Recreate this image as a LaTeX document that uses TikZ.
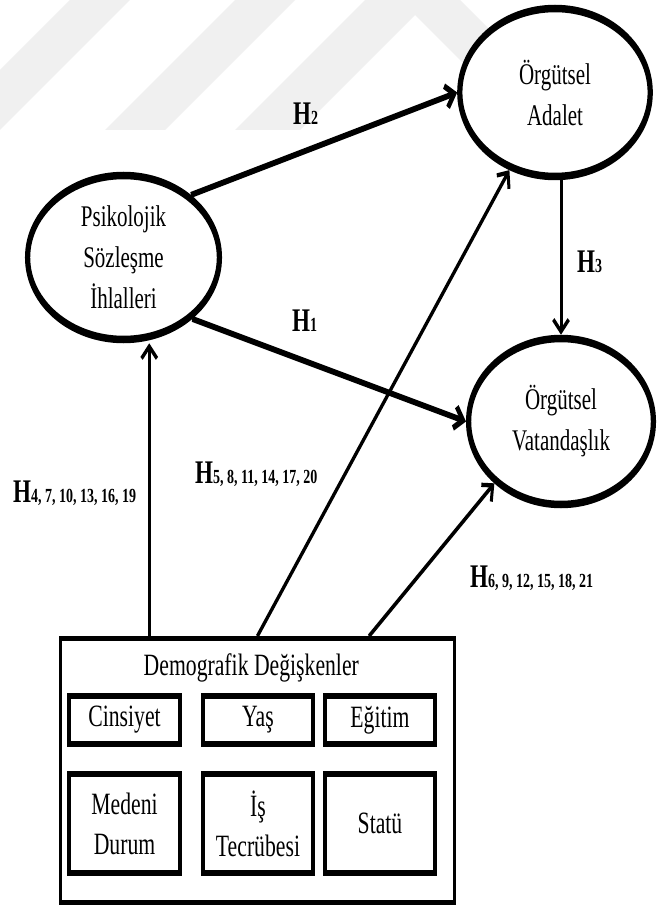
\documentclass[tikz,border=0pt]{standalone}
\usepackage{fontspec}
\setmainfont{Liberation Serif}
\usetikzlibrary{shapes.geometric,arrows.meta,calc}
\definecolor{wmark}{gray}{0.94}
\begin{document}
\begin{tikzpicture}
\path[use as bounding box, fill=white] (0pt,0pt) rectangle (656pt,-909pt);
% faint background emblem bands
\begin{scope}[x=1pt, y=-1pt]
  \fill[wmark] (-60,130) -- (0,130) -- (130,0) -- (70,0) -- cycle;
  \fill[wmark] (105,130) -- (165,130) -- (295,0) -- (235,0) -- cycle;
  \fill[wmark] (235,130) -- (300,130) -- (430,0) -- (365,0) -- cycle;
  \fill[wmark] (400,0) -- (460,0) -- (590,130) -- (530,130) -- cycle;
\end{scope}
% everything is set in a horizontally condensed frame
\begin{scope}[transform canvas={xscale=0.7}, x=1.4285714pt, y=-1pt,
  construct/.style={ellipse, draw, fill=white, line width=7.5pt, inner sep=0pt, align=center,
    font=\fontsize{30}{41}\selectfont},
  groupbox/.style={rectangle, draw, line width=4.5pt, inner sep=0pt,
    minimum width=563pt, minimum height=264pt},
  itembox/.style={rectangle, draw, line width=6pt, inner sep=0pt, align=center,
    minimum width=158pt, font=\fontsize{31}{40}\selectfont},
  shortbox/.style={itembox, minimum height=48pt},
  tallbox/.style={itembox, minimum height=99pt},
  tip/.style={-{Straight Barb[length=12pt,width=22pt]}},
  thick link/.style={tip, line width=6pt},
  thin link/.style={tip, line width=4.3pt},
  hyp/.style={inner sep=0pt, font=\bfseries},
]
% constructs
\node[construct, minimum width=272pt, minimum height=168pt] (adl) at (555,92.5)
  {Örgütsel\\Adalet};
\node[construct, minimum width=274pt, minimum height=164pt] (psk) at (123.5,257.5)
  {Psikolojik\\Sözleşme\\İhlalleri};
\node[construct, minimum width=264pt, minimum height=166pt] (vat) at (561,421.5)
  {Örgütsel\\Vatandaşlık};

% demographic variables
\node[groupbox] (demo) at (257.3,770.5) {};
\node[anchor=base, inner sep=0pt, font=\fontsize{31}{31}\selectfont] (dtitle) at (251.3,675)
  {Demografik Değişkenler};
\node[shortbox] (cins) at (124.5,720) {Cinsiyet};
\node[shortbox] (yas)  at (258,720)   {Yaş};
\node[shortbox] (egit) at (380,720)   {Eğitim};
\node[tallbox]  (med)  at (124.5,823.5) {Medeni\\Durum};
\node[tallbox]  (tec)  at (258,823.5)   {İş\\Tecrübesi};
\node[tallbox]  (stat) at (380,823.5)   {Statü};

% paths
\coordinate (d4) at ($(demo.north west)!0.228!(demo.north east)$);
\coordinate (d6) at ($(demo.north west)!0.781!(demo.north east)$);
\draw[thick link] (psk.33) -- (adl.west);
\draw[thick link] (psk.-32) -- (vat.west);
\draw[thin link] (vat.north |- adl.south) -- (vat.north);
\draw[thin link] (d4) -- (d4 |- psk.south);
\draw[thin link] (demo.north) -- (adl.-130);
\draw[thin link] (d6) -- (vat.-147);

% hypothesis labels
\node[hyp, anchor=base west] (h2) at (293,125)
  {{\fontsize{33}{33}\selectfont H}{\fontsize{20}{20}\selectfont 2}};
\node[hyp, anchor=base west] (h1) at (292,331)
  {{\fontsize{33}{33}\selectfont H}{\fontsize{20}{20}\selectfont 1}};
\node[hyp, anchor=base west] (h3) at (577,272)
  {{\fontsize{33}{33}\selectfont H}{\fontsize{20}{20}\selectfont 3}};
\node[hyp, anchor=base west] (h4) at (13,502)
  {{\fontsize{33}{33}\selectfont H}{\fontsize{20}{20}\selectfont 4, 7, 10, 13, 16, 19}};
\node[hyp, anchor=base west] (h5) at (195,483)
  {{\fontsize{33}{33}\selectfont H}{\fontsize{20}{20}\selectfont 5, 8, 11, 14, 17, 20}};
\node[hyp, anchor=base west] (h6) at (470,587)
  {{\fontsize{33}{33}\selectfont H}{\fontsize{20}{20}\selectfont 6, 9, 12, 15, 18, 21}};
\end{scope}
\end{tikzpicture}
\end{document}
